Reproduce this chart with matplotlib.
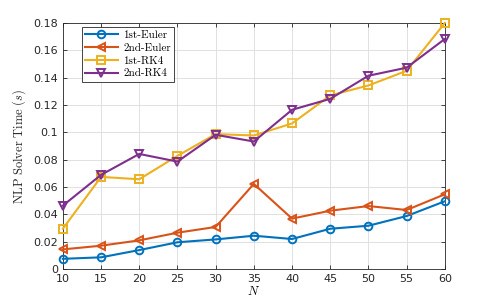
import numpy as np
import matplotlib.pyplot as plt

N = [10, 15, 20, 25, 30, 35, 40, 45, 50, 55, 60]
euler1 = [0.0075, 0.0086, 0.0139, 0.0196, 0.0217, 0.0244, 0.0220, 0.0295, 0.0317, 0.0388, 0.0496]
euler2 = [0.0144, 0.0171, 0.0210, 0.0266, 0.0308, 0.0623, 0.0369, 0.0427, 0.0461, 0.0432, 0.0547]
rk4_1 = [0.0295, 0.0674, 0.0657, 0.0828, 0.0987, 0.0977, 0.1065, 0.1270, 0.1343, 0.1450, 0.1800]
rk4_2 = [0.0464, 0.0689, 0.0842, 0.0786, 0.0982, 0.0933, 0.1165, 0.1245, 0.1414, 0.1473, 0.1683]
labels = ['1st-Euler', '2nd-Euler', '1st-RK4', '2nd-RK4']
yticks = [0, 0.02, 0.04, 0.06, 0.08, 0.1, 0.12, 0.14, 0.16, 0.18]
ytick_labels = ['0', '0.02', '0.04', '0.06', '0.08', '0.1', '0.12', '0.14', '0.16', '0.18']

plt.rcParams['mathtext.fontset'] = 'cm'

fig = plt.figure(figsize=(4.91, 3.02), dpi=100)
ax = fig.add_axes([0.128, 0.109, 0.778, 0.815])

colors = ['#0072BD', '#D95319', '#EDB120', '#7E2F8E']
markers = ['o', '<', 's', 'v']
for ys, lab, c, m in zip([euler1, euler2, rk4_1, rk4_2], labels, colors, markers):
    ax.plot(N, ys, color=c, marker=m, markersize=5.5, markerfacecolor='none',
            markeredgewidth=1.4, linewidth=1.5, label=lab, clip_on=False, zorder=3)

ax.set_xlim(10, 60)
ax.set_ylim(0, 0.18)
ax.set_xticks(N)
ax.set_yticks(yticks)
ax.set_yticklabels(ytick_labels)
ax.tick_params(direction='in', labelsize=8, colors='#262626', length=3, width=0.6,
               top=True, right=True)
for s in ax.spines.values():
    s.set_color('#262626')
    s.set_linewidth(0.6)
ax.grid(True, color='#dcdcdc', linewidth=0.6)
ax.set_axisbelow(True)

ax.set_xlabel(r'$N$', fontsize=9, labelpad=1)
ax.set_ylabel(r'$\mathrm{NLP\ Solver\ Time\ }(s)$', fontsize=9, color='#262626', labelpad=4)

leg = ax.legend(loc='upper left', bbox_to_anchor=(0.05, 0.985), fancybox=False,
                edgecolor='#262626', framealpha=1, prop={'family': 'cmr10', 'size': 8},
                handlelength=2.9, borderpad=0.3, labelspacing=0.28, handletextpad=0.5,
                borderaxespad=0)
leg.get_frame().set_linewidth(0.6)

fig.savefig('out.png', dpi=100)
